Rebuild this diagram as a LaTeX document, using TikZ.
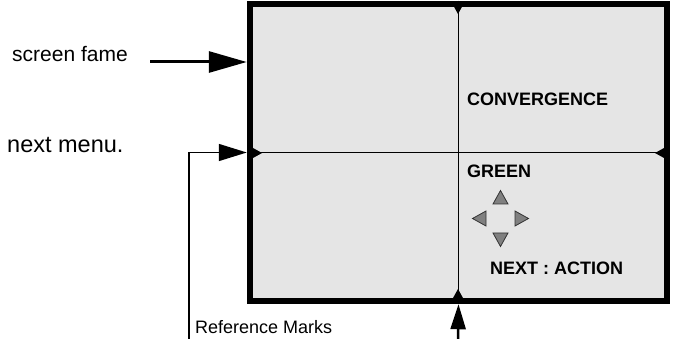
\documentclass[tikz,border=0pt]{standalone}
\usepackage{fontspec}
\setmainfont{Liberation Sans}
\usetikzlibrary{arrows.meta,calc}
\tikzset{
  screen/.style  = {draw, line width=6.5pt, fill=black!10, inner sep=0pt,
                    minimum width=417pt, minimum height=297pt},
  divider/.style = {line width=1.5pt},
  refmark/.style = {fill=black},
  pad/.style     = {draw=black!80, fill=black!50, line width=0.8pt},
  lbl/.style     = {font=\fontsize{21}{24}\selectfont, inner sep=0pt},
  small/.style   = {font=\fontsize{18}{21}\selectfont, inner sep=0pt},
  tag/.style     = {font=\bfseries\fontsize{18}{21}\selectfont, inner sep=0pt},
  bigar/.style   = {-{Triangle[length=38pt,width=21pt]}, line width=3pt},
  ar/.style      = {-{Triangle[length=28pt,width=17pt]}, line width=1.5pt},
  upar/.style    = {-{Triangle[length=25pt,width=15pt]}, line width=2.5pt},
}
\begin{document}
\begin{tikzpicture}[x=1pt,y=-1pt]
\useasboundingbox (0,0) rectangle (675,339);

% the screen with its cross
\node[screen] (scr) at (458.5,152.5) {};
\draw[divider] (scr.north) -- (scr.south);
\draw[divider] (scr.west) -- (scr.east);

% reference marks at the ends of the cross
\coordinate (mt) at (458,5);
\coordinate (mb) at (458,298);
\coordinate (ml) at (253,153);
\coordinate (mr) at (664,153);
\fill[refmark] (mt) ++(-5,0) -- ++(10,0) -- ++(-5,9) -- cycle;
\fill[refmark] (mb) ++(-5,0) -- ++(10,0) -- ++(-5,-9) -- cycle;
\fill[refmark] (ml) ++(0,-5) -- ++(0,10) -- ++(9,-5) -- cycle;
\fill[refmark] (mr) ++(0,-5) -- ++(0,10) -- ++(-9,-5) -- cycle;

% texts on the screen
\node[tag, anchor=base west] (conv) at (467,106) {CONVERGENCE};
\node[tag, anchor=base west] (green) at (467,178) {GREEN};
\node[tag, anchor=base west] (next) at (490,275) {NEXT : ACTION};

% direction pad
\coordinate (pc) at (500.5,218.5);
\foreach \r in {0,90,180,270}{
  \draw[pad, rotate around={\r:(pc)}] ($(pc)+(-7.5,-14.5)$) -- ++(15,0) -- ++(-7.5,-13.5) -- cycle;
}

% labels and pointers outside
\node[lbl, anchor=base west] (fame) at (12,62) {screen fame};
\node[lbl, anchor=base west, font=\fontsize{23.5}{26}\selectfont] (menu) at (7,153) {next menu.};
\node[small, anchor=base west] (refm) at (195,333) {Reference Marks};

\coordinate (fs) at (150,62);
\coordinate (rs) at (189,339);
\coordinate (bs) at (458,339);
\draw[bigar] (fs) -- (fs -| scr.west);
\draw[ar] (rs) |- (scr.west);
\draw[upar] (bs) -- (scr.south);
\end{tikzpicture}
\end{document}
